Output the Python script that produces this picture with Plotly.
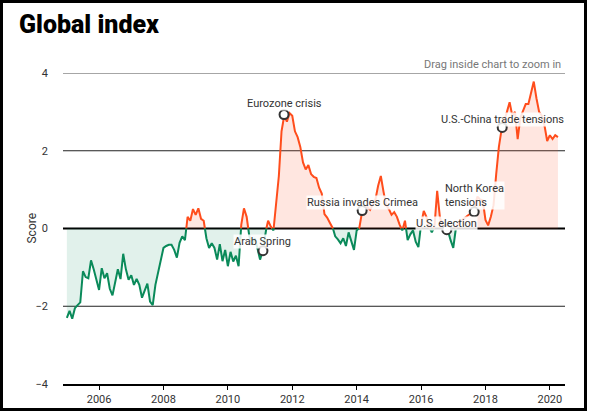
import plotly.graph_objects as go

# ---- data (monthly, Jan 2005 .. Apr 2020) ----
start_year = 2005
scores = [
    # 2005
    -2.3, -2.12, -2.32, -2.05, -1.97, -1.9, -1.1, -1.25, -1.28, -0.82, -1.05, -1.35,
    # 2006
    -1.58, -1.02, -1.28, -1.15, -1.55, -1.72, -1.38, -1.05, -1.3, -0.65, -1.05, -1.32,
    # 2007
    -1.2, -1.45, -1.3, -1.45, -1.78, -1.62, -1.42, -1.88, -1.97, -1.45, -1.1, -0.82,
    # 2008
    -0.5, -0.45, -0.42, -0.42, -0.55, -0.75, -0.37, -0.2, -0.3, 0.3, 0.2, 0.5,
    # 2009
    0.35, 0.52, 0.25, 0.2, -0.25, -0.5, -0.38, -0.5, -0.8, -0.4, -0.84, -0.55,
    # 2010
    -0.97, -0.6, -0.85, -0.7, -0.97, 0.1, 0.52, 0.3, -0.2, -0.4, -0.25, -0.5,
    # 2011
    -0.8, -0.57, -0.1, 0.2, 0.05, -0.05, 0.75, 1.35, 2.5, 2.9, 2.75, 2.97,
    # 2012
    2.9, 2.5, 2.35, 2.1, 1.7, 1.52, 1.63, 1.4, 1.33, 1.3, 1.05, 0.9,
    # 2013
    0.37, 0.28, 0.15, 0.04, -0.2, -0.28, -0.38, -0.25, -0.45, -0.1, -0.3, -0.55,
    # 2014
    -0.05, 0.02, 0.42, 0.52, 0.55, 0.48, 0.62, 0.75, 1.1, 1.35, 0.95, 0.6,
    # 2015
    0.5, 0.35, 0.42, 0.3, 0.1, -0.05, 0.2, -0.3, -0.15, -0.05, -0.34, -0.48,
    # 2016
    0.1, 0.45, 0.3, 0.05, -0.1, 0.05, 0.97, 0.3, 0.05, 0.02, -0.05, -0.3,
    # 2017
    -0.5, 0.02, 0.15, 0.2, 0.25, 0.3, 0.35, 0.42, 0.55, 0.82, 0.75, 0.72,
    # 2018
    0.22, 0.08, 0.3, 0.6, 1.4, 2.1, 2.55, 2.75, 3.0, 3.25, 2.9, 3.0,
    # 2019
    2.3, 2.85, 3.05, 3.2, 3.2, 3.5, 3.78, 3.35, 3.0, 2.9, 2.65, 2.25,
    # 2020
    2.4, 2.3, 2.4, 2.35,
]

event_labels = ["Eurozone crisis", "Arab Spring", "Russia invades Crimea",
                "U.S. election", "North Korea<br>tensions", "U.S.-China trade tensions"]
event_x = [2011.745, 2011.09, 2014.17, 2016.8, 2017.65, 2018.52]
event_y = [2.93, -0.57, 0.46, -0.03, 0.43, 2.6]

x_ticks = [2006, 2008, 2010, 2012, 2014, 2016, 2018, 2020]
y_ticks = [-4, -2, 0, 2, 4]

# ---- derived geometry ----
xs = [start_year + i / 12 for i in range(len(scores))]
pts = [(xs[0], scores[0])]
for i in range(1, len(scores)):
    v0, v1 = scores[i - 1], scores[i]
    if v0 * v1 < 0:
        xc = xs[i - 1] + (xs[i] - xs[i - 1]) * v0 / (v0 - v1)
        pts.append((xc, 0.0))
    pts.append((xs[i], v1))

px = [p[0] for p in pts]
pv = [p[1] for p in pts]
pos_line = [v if v >= 0 else None for v in pv]
neg_line = [v if v <= 0 else None for v in pv]
pos_fill = [max(v, 0) for v in pv]
neg_fill = [min(v, 0) for v in pv]

RED = "#ff4d1c"
GREEN = "#0a8a5a"
FONT = "Roboto"

fig = go.Figure()
fig.add_trace(go.Scatter(x=px, y=pos_fill, mode="lines", line=dict(width=0),
                         fill="tozeroy", fillcolor="rgba(255,90,50,0.15)",
                         hoverinfo="skip", showlegend=False))
fig.add_trace(go.Scatter(x=px, y=neg_fill, mode="lines", line=dict(width=0),
                         fill="tozeroy", fillcolor="rgba(10,140,90,0.12)",
                         hoverinfo="skip", showlegend=False))
fig.add_trace(go.Scatter(x=px, y=pos_line, mode="lines",
                         line=dict(color=RED, width=2), connectgaps=False,
                         showlegend=False))
fig.add_trace(go.Scatter(x=px, y=neg_line, mode="lines",
                         line=dict(color=GREEN, width=2), connectgaps=False,
                         showlegend=False))
fig.add_trace(go.Scatter(x=event_x, y=event_y, mode="markers",
                         marker=dict(symbol="circle", size=9, color="white",
                                     line=dict(color="#333", width=2)),
                         hoverinfo="skip", showlegend=False))

# grid lines
grid_style = {4: ("#888", 1.5), 2: ("#222", 1), 0: ("#000", 2), -2: ("#222", 1)}
for yv, (col, w) in grid_style.items():
    fig.add_shape(type="line", xref="paper", yref="y", x0=0, x1=1, y0=yv, y1=yv,
                  line=dict(color=col, width=w), layer="below")

# outer frame
fig.add_shape(type="rect", xref="paper", yref="paper",
              x0=(1.5 - 63) / 502, x1=(585.5 - 63) / 502,
              y0=(384 - 409.5) / 311, y1=(384 - 1.5) / 311,
              line=dict(color="black", width=3), fillcolor="rgba(0,0,0,0)")

shifts = [11, 9, 8, 6, 16, 8]
for lab, ex, ey, sh in zip(event_labels, event_x, event_y, shifts):
    fig.add_annotation(x=ex, y=ey, xref="x", yref="y", text=lab, showarrow=False,
                       yshift=sh, align="left", bgcolor="rgba(255,255,255,0.85)",
                       borderpad=0, font=dict(family=FONT, size=11, color="#333"))

fig.add_annotation(x=0.996, y=(384 - 64) / 311, xref="paper", yref="paper",
                   xanchor="right", yanchor="middle", showarrow=False,
                   text="Drag inside chart to zoom in",
                   font=dict(family=FONT, size=11, color="#777"))
fig.add_annotation(x=(22 - 63) / 502, y=0.5, xref="paper", yref="paper",
                   textangle=-90, showarrow=False, text="Score",
                   font=dict(family=FONT, size=12, color="#333"))

fig.update_layout(
    width=590, height=413, autosize=False,
    margin=dict(l=63, r=25, t=73, b=29),
    paper_bgcolor="white", plot_bgcolor="white",
    title=dict(text="Global index", x=19 / 590, xanchor="left", xref="container",
               y=1 - 24 / 413, yanchor="middle", yref="container",
               font=dict(family=FONT, size=25, color="black", weight=900)),
    xaxis=dict(range=[2004.88, 2020.47], tickvals=x_ticks, automargin=False,
               ticktext=[str(t) for t in x_ticks], showgrid=False, zeroline=False,
               showline=True, linecolor="black", linewidth=1.5,
               ticks="outside", ticklen=4, tickcolor="black", tickwidth=1,
               tickfont=dict(family=FONT, size=11, color="#333")),
    yaxis=dict(range=[-4, 4], tickvals=y_ticks, showgrid=False, zeroline=False,
               showline=False, ticks="", ticklabelstandoff=14, automargin=False,
               tickfont=dict(family=FONT, size=11, color="#333")),
    hovermode=False,
)

fig.write_html(
    "out.html",
    config={"displayModeBar": False},
    post_script="document.body.style.margin='0';document.body.style.padding='0';"
                "document.body.style.overflow='hidden';",
)
